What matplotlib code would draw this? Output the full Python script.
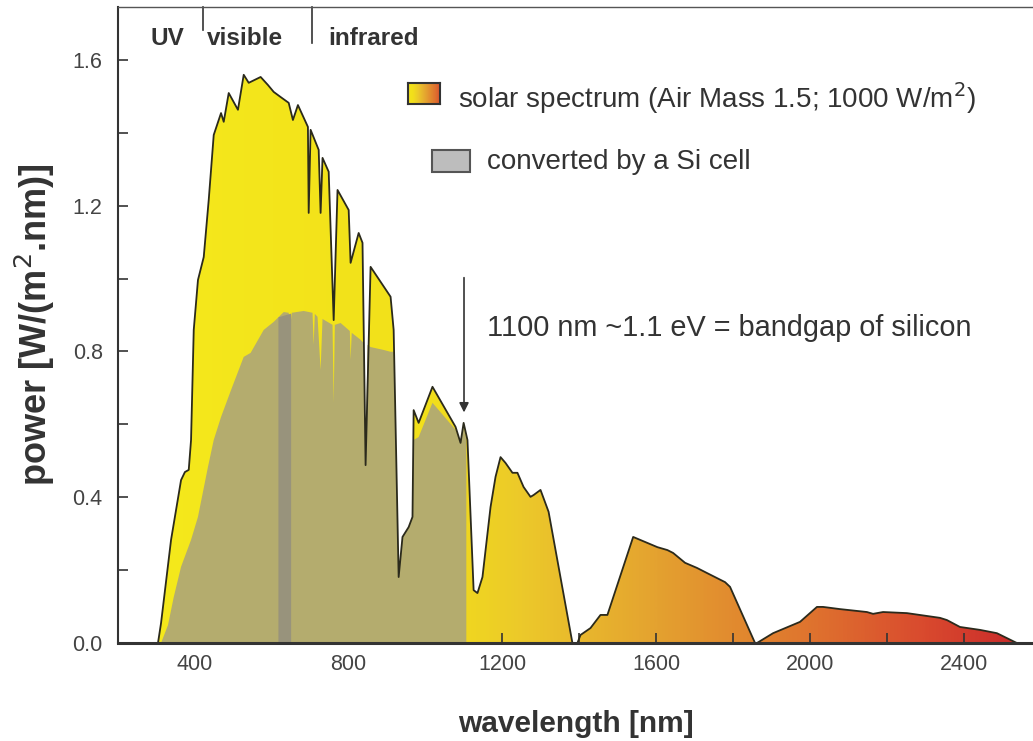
import numpy as np
import matplotlib
matplotlib.use("Agg")
import matplotlib.pyplot as plt
from matplotlib.colors import LinearSegmentedColormap
from matplotlib.patches import Polygon, Rectangle
from matplotlib.ticker import MultipleLocator, FormatStrFormatter

plt.rcParams['font.family'] = ['Liberation Sans', 'DejaVu Sans']

# AM1.5 solar spectrum outline (nm, W/(m2.nm))
solar_nm = [304, 312, 338, 364, 374, 384, 390, 397, 408, 423, 436, 449, 468, 475, 488,
            512, 527, 540, 571, 590, 605, 623, 644, 655, 668, 694, 696, 701, 722, 727,
            732, 748, 761, 771, 800, 805, 826, 836, 844, 857, 909, 917, 930, 940, 956,
            966, 969, 982, 1018, 1078, 1091, 1099, 1109, 1125, 1135, 1148, 1169, 1182,
            1195, 1208, 1226, 1239, 1255, 1273, 1281, 1299, 1320, 1382,
            1395, 1403, 1429, 1455, 1473, 1540, 1558, 1603, 1629, 1644, 1675, 1706,
            1732, 1779, 1792, 1857,
            1862, 1904, 1974, 2018, 2034, 2078, 2148, 2164, 2190, 2252, 2338, 2356,
            2390, 2442, 2486, 2538]
solar_val = [0.0, 0.055, 0.283, 0.447, 0.469, 0.475, 0.557, 0.859, 0.996, 1.059, 1.216,
             1.394, 1.454, 1.430, 1.509, 1.463, 1.559, 1.537, 1.553, 1.531, 1.512, 1.498,
             1.482, 1.435, 1.476, 1.416, 1.180, 1.408, 1.353, 1.180, 1.331, 1.293, 0.886,
             1.243, 1.188, 1.043, 1.125, 1.098, 0.488, 1.032, 0.950, 0.859, 0.181, 0.291,
             0.318, 0.346, 0.639, 0.604, 0.703, 0.593, 0.549, 0.604, 0.557, 0.145, 0.137,
             0.181, 0.373, 0.456, 0.510, 0.494, 0.467, 0.467, 0.428, 0.401, 0.406, 0.420,
             0.360, 0.0,
             0.0, 0.022, 0.041, 0.077, 0.077, 0.291, 0.283, 0.263, 0.255, 0.247, 0.220,
             0.206, 0.192, 0.167, 0.154, 0.0,
             0.0, 0.027, 0.058, 0.099, 0.099, 0.093, 0.085, 0.080, 0.085, 0.082, 0.069,
             0.063, 0.044, 0.036, 0.027, 0.0]

# part converted by a Si cell
si_nm = [312, 330, 345, 364, 390, 408, 434, 449, 468, 494, 527, 545, 579, 605, 631, 644,
         647, 652, 683, 706, 709, 712, 719, 727, 732, 745, 758, 761, 764, 779, 803, 805,
         808, 831, 839, 844, 849, 857, 891, 909, 917, 930, 940, 956, 966, 969, 982, 1018,
         1078, 1091, 1099, 1106, 1106]
si_val = [0.0, 0.049, 0.126, 0.209, 0.283, 0.346, 0.483, 0.557, 0.620, 0.694, 0.785,
          0.796, 0.859, 0.881, 0.908, 0.906, 0.859, 0.906, 0.911, 0.906, 0.818, 0.903,
          0.895, 0.749, 0.889, 0.881, 0.873, 0.659, 0.873, 0.878, 0.856, 0.777, 0.851,
          0.832, 0.823, 0.494, 0.818, 0.812, 0.804, 0.799, 0.799, 0.181, 0.291, 0.318,
          0.346, 0.557, 0.565, 0.659, 0.585, 0.549, 0.598, 0.557, 0.0]

# darker stripe inside the converted part
strip_nm = [616, 649]
strip_top = [0.895, 0.905]

# colour gradient of the spectrum fill
grad_nm = [200, 1000, 1250, 1600, 2000, 2300, 2580]
grad_colors = ['#f5ea1c', '#f2e01a', '#ecc92a', '#e4a230', '#df742e', '#d94a2e', '#c8262a']

region_edges = [420, 705]
region_labels = ['UV', 'visible', 'infrared']
bandgap_nm = 1100

xmin, xmax, ymax = 200, 2580, 1.745

fig = plt.figure(figsize=(10.33, 7.41), dpi=100)
ax = fig.add_axes([118 / 1033, 98 / 741, 915 / 1033, 636 / 741])

# gradient fill clipped to the spectrum
pos = [(g - xmin) / (xmax - xmin) for g in grad_nm]
cmap = LinearSegmentedColormap.from_list('sun', list(zip(pos, grad_colors)))
img = cmap(np.linspace(0, 1, 800))[None, :, :]
im = ax.imshow(img, extent=[xmin, xmax, 0, ymax], aspect='auto', origin='lower',
               interpolation='bilinear', zorder=1)
poly = Polygon(np.column_stack([solar_nm, solar_val]), closed=True,
               facecolor='none', edgecolor='none')
ax.add_patch(poly)
im.set_clip_path(poly)

ax.fill(si_nm, si_val, color='#b4ac6e', lw=0, zorder=2)
ax.fill_between(strip_nm, 0, strip_top, color='#98937c', lw=0, zorder=3)
ax.plot(solar_nm, solar_val, color='#2b2a1c', lw=1.3, zorder=4)

ax.set_xlim(xmin, xmax)
ax.set_ylim(0, ymax)
ax.set_xticks([400, 800, 1200, 1600, 2000, 2400])
ax.xaxis.set_minor_locator(MultipleLocator(200))
ax.set_yticks([0.0, 0.4, 0.8, 1.2, 1.6])
ax.yaxis.set_minor_locator(MultipleLocator(0.2))
ax.yaxis.set_major_formatter(FormatStrFormatter('%.1f'))
ax.tick_params(which='both', direction='in', length=7, width=1.2, color='#333333',
               labelsize=15.5, labelcolor='#444444')
ax.tick_params(axis='y', pad=11)
ax.tick_params(axis='x', pad=8)
ax.tick_params(which='both', top=False, right=False)

ax.spines['right'].set_visible(False)
ax.spines['top'].set_color('#555555')
ax.spines['top'].set_linewidth(1.0)
ax.spines['left'].set_color('#333333')
ax.spines['left'].set_linewidth(1.5)
ax.spines['bottom'].set_color('#333333')
ax.spines['bottom'].set_linewidth(2.2)
ax.spines['bottom'].set_zorder(5)

ax.set_xlabel('wavelength [nm]', fontsize=21.5, fontweight='bold', color='#333333',
              labelpad=25)
ax.set_ylabel('power [W/(m$^2$.nm)]', fontsize=26, fontweight='bold', color='#333333',
              labelpad=11)

# region labels along the top
for xe, length in zip(region_edges, [0.036, 0.057]):
    ax.plot([xe, xe], [1.0, 1.0 - length], color='#333333', lw=1.2,
            transform=ax.get_xaxis_transform(), clip_on=False)
ax.text(0.035, 0.950, region_labels[0], transform=ax.transAxes, fontsize=17.5,
        fontweight='bold', color='#333333', va='center')
ax.text(0.097, 0.950, region_labels[1], transform=ax.transAxes, fontsize=17.5,
        fontweight='bold', color='#333333', va='center')
ax.text(0.230, 0.950, region_labels[2], transform=ax.transAxes, fontsize=17.5,
        fontweight='bold', color='#333333', va='center')

# bandgap arrow
ax.annotate('', xy=(bandgap_nm, 0.625), xytext=(bandgap_nm, 1.01),
            arrowprops=dict(arrowstyle='-|>', color='#333333', lw=1.2,
                            mutation_scale=14))
ax.text(0.403, 0.495, '1100 nm ~1.1 eV = bandgap of silicon', transform=ax.transAxes,
        fontsize=20.8, color='#333333', va='center')

# legend boxes
lax = fig.add_axes([408 / 1033, (741 - 104) / 741, 32 / 1033, 21 / 741])
lax.imshow(cmap(np.linspace(0.25, 0.85, 100))[None, :, :], aspect='auto')
lax.set_xticks([])
lax.set_yticks([])
for s in lax.spines.values():
    s.set_color('#333333')
    s.set_linewidth(1.5)
ax.add_patch(Rectangle((0.343, 0.7406), 0.0415, 0.0346, transform=ax.transAxes,
                       facecolor='#bdbdbd', edgecolor='#555555', lw=1.5, clip_on=False,
                       zorder=6))
ax.text(0.3716, 0.857, 'solar spectrum (Air Mass 1.5; 1000 W/m$^2$)',
        transform=ax.transAxes, fontsize=20, color='#333333', va='center')
ax.text(0.403, 0.756, 'converted by a Si cell', transform=ax.transAxes, fontsize=20,
        color='#333333', va='center')

fig.savefig('out.png', dpi=100)
